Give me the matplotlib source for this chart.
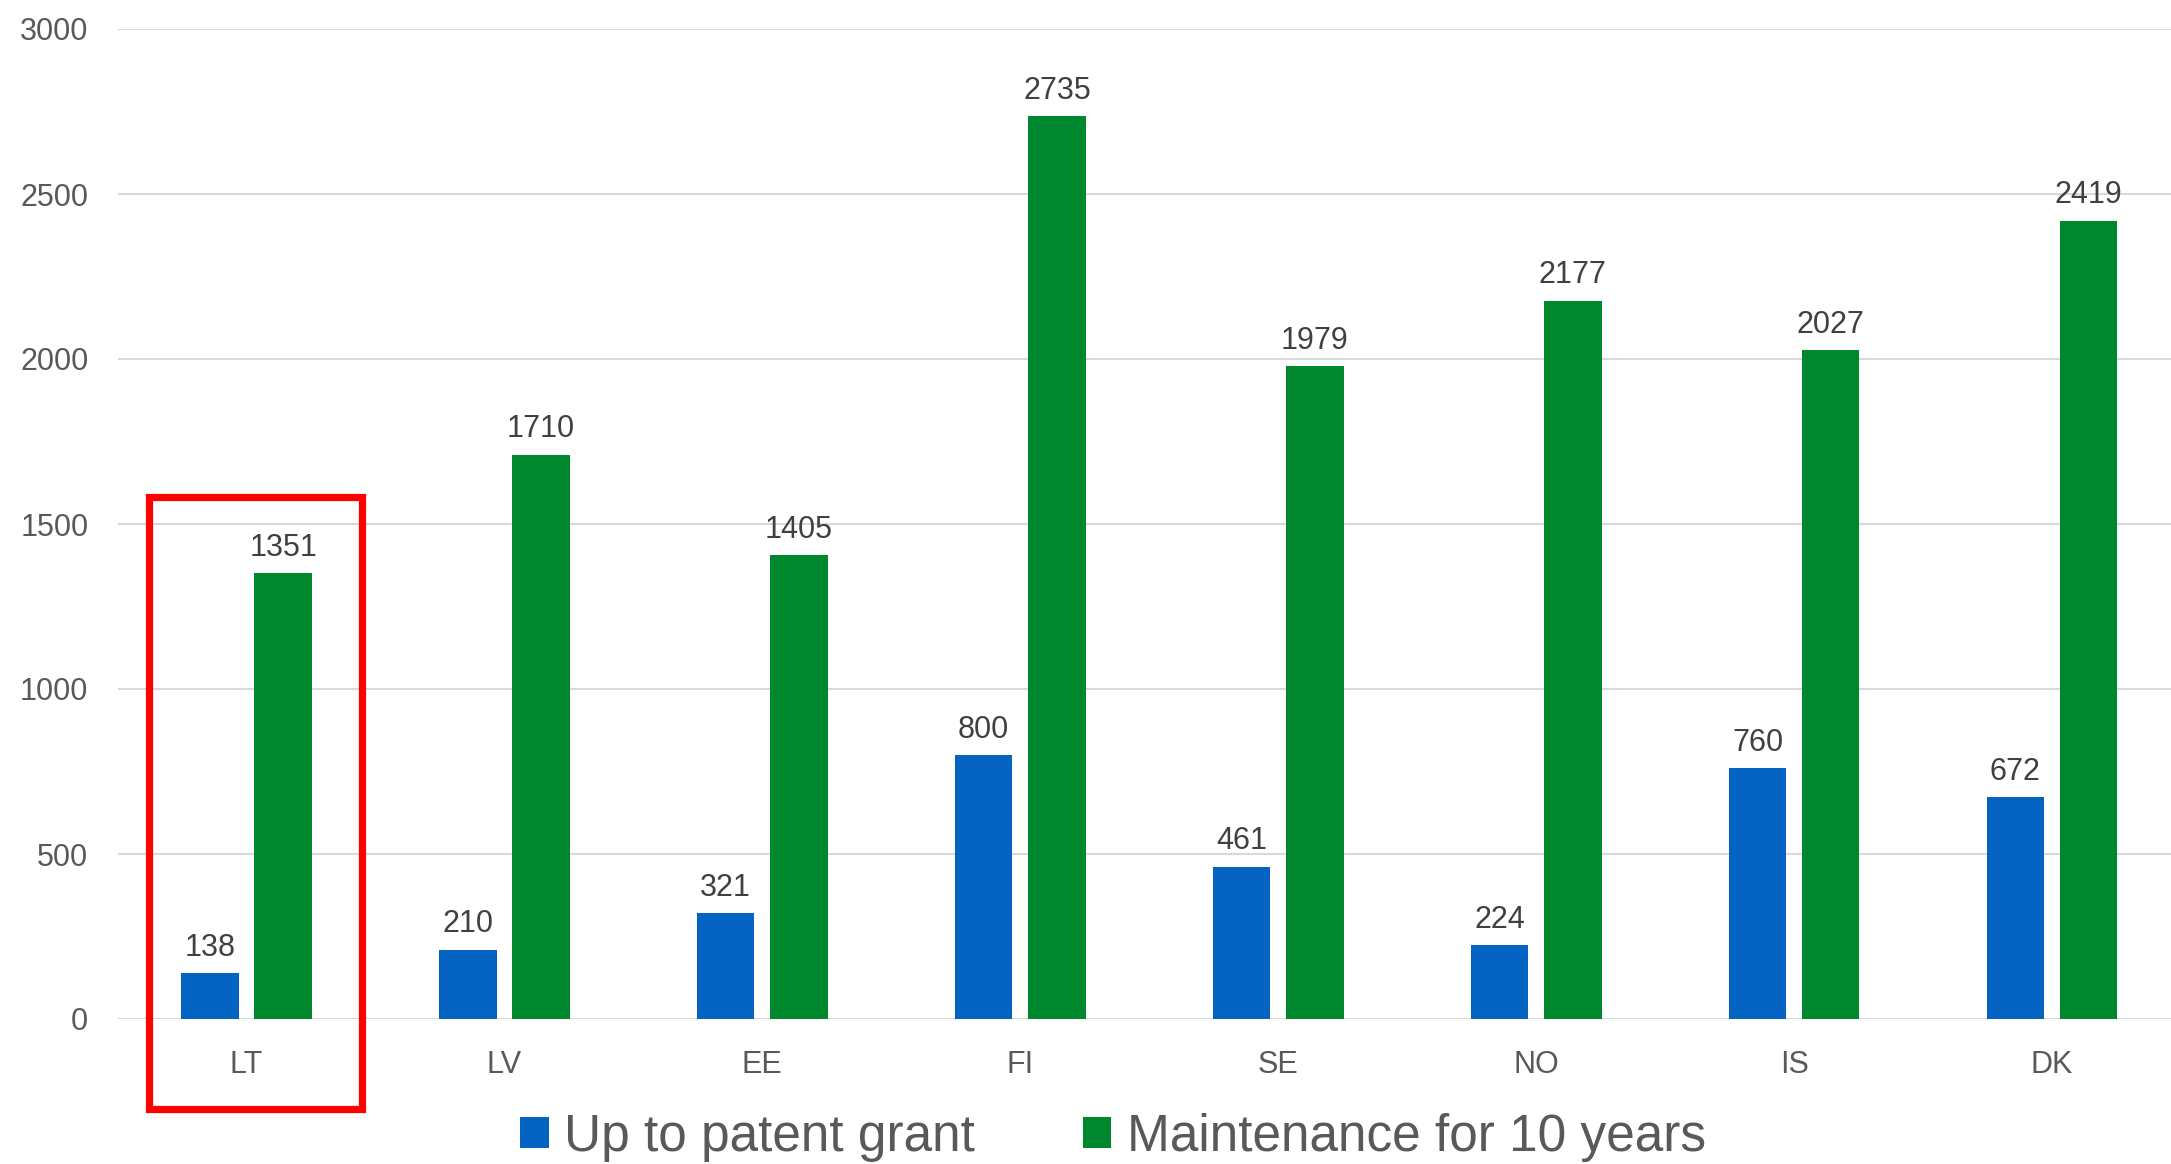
import matplotlib
matplotlib.use("Agg")
import matplotlib.pyplot as plt
import numpy as np
from matplotlib.patches import Rectangle, Patch

plt.rcParams['font.family'] = ['Liberation Sans', 'DejaVu Sans']

categories = ["LT", "LV", "EE", "FI", "SE", "NO", "IS", "DK"]
up_to_grant = [138, 210, 321, 800, 461, 224, 760, 672]
maintenance = [1351, 1710, 1405, 2735, 1979, 2177, 2027, 2419]
series_names = ["Up to patent grant", "Maintenance for 10 years"]
yticks = [0, 500, 1000, 1500, 2000, 2500, 3000]

BLUE = "#0563C1"
GREEN = "#00882E"
TXT = "#595959"

W, H = 2171, 1164
fig = plt.figure(figsize=(W / 100, H / 100), dpi=100)
ax_left, ax_right = 117.5, 2181
ax_top, ax_bot = 29, 1019
ax = fig.add_axes([ax_left / W, 1 - ax_bot / H, (ax_right - ax_left) / W, (ax_bot - ax_top) / H])

x = np.arange(len(categories))
bw = 0.223
off = 0.142
b1 = ax.bar(x - off, up_to_grant, bw, color=BLUE, zorder=3)
b2 = ax.bar(x + off, maintenance, bw, color=GREEN, zorder=3)

for bars, vals in ((b1, up_to_grant), (b2, maintenance)):
    for r, v in zip(bars, vals):
        ax.annotate(str(v), (r.get_x() + r.get_width() / 2, v), xytext=(0, 7.5),
                    textcoords="offset points", ha="center", va="bottom",
                    fontsize=22, color="#404040")

ax.set_xlim(-0.5, len(categories) - 0.5)
ax.set_ylim(0, 3000)
ax.set_yticks(yticks)
ax.set_yticklabels([str(t) for t in yticks])
ax.set_xticks(x)
ax.set_xticklabels(categories)
ax.tick_params(axis="both", length=0, labelsize=22, labelcolor=TXT)
ax.tick_params(axis="x", pad=22)
ax.tick_params(axis="y", pad=21)
ax.yaxis.grid(True, color="#D9D9D9", linewidth=1.5, zorder=0)
for s in ax.spines.values():
    s.set_visible(False)

# highlight box around LT
ax.add_patch(Rectangle((-0.376, -273), 0.824, 1855, fill=False, edgecolor="#FF0000",
                       linewidth=5.2, clip_on=False, zorder=5))

handles = [Patch(facecolor=BLUE), Patch(facecolor=GREEN)]
fig.legend(handles, series_names, loc="center", bbox_to_anchor=(1113 / W, 1 - 1137 / H),
           ncol=2, frameon=False, fontsize=37, labelcolor=TXT,
           handlelength=0.55, handleheight=0.55, handletextpad=0.3, columnspacing=2.1,
           borderpad=0, borderaxespad=0)

fig.savefig("out.png", dpi=100)
